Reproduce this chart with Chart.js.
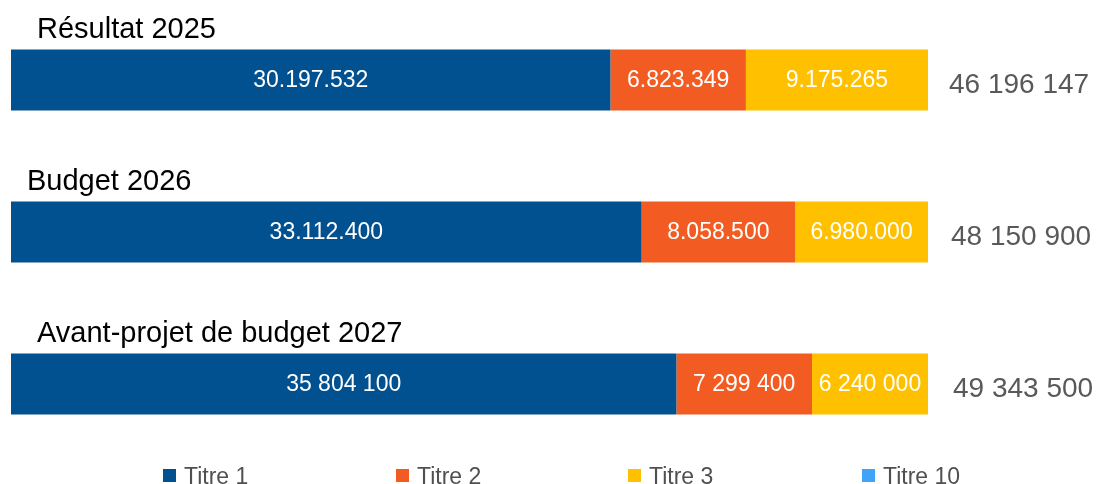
<!DOCTYPE html>
<html>
<head>
<meta charset="utf-8">
<script src="https://cdn.jsdelivr.net/npm/chart.js@4"></script>
<style>
  body { margin: 0; background: #fff; }
  #wrap { width: 1099px; height: 484px; }
</style>
</head>
<body>
<div id="wrap"><canvas id="chart" width="1099" height="484"></canvas></div>
<script>
// donnees
const categories = ['Résultat 2025', 'Budget 2026', 'Avant-projet de budget 2027'];
const titre1 = [30197532, 33112400, 35804100];
const titre2 = [6823349, 8058500, 7299400];
const titre3 = [9175265, 6980000, 6240000];
const titre10 = [0, 0, 0];
const totaux = [46196147, 48150900, 49343500];
const separateurs = ['.', '.', ' '];

const series = [
    { label: 'Titre 1', values: titre1, color: '#01508F' },
    { label: 'Titre 2', values: titre2, color: '#F25C22' },
    { label: 'Titre 3', values: titre3, color: '#FFC000' },
    { label: 'Titre 10', values: titre10, color: '#3FA4F8' }
];

function fmt(n, sep) {
    return String(Math.round(n)).replace(/\B(?=(\d{3})+(?!\d))/g, sep);
}

const FONT = '"Liberation Sans", Arial, sans-serif';

// etiquettes, totaux et legende dessines a la main
const labelsPlugin = {
    id: 'labelsPlugin',
    afterDatasetsDraw(chart) {
        const ctx = chart.ctx;
        ctx.save();

        // valeurs dans les segments
        ctx.font = '23px ' + FONT;
        ctx.fillStyle = '#ffffff';
        ctx.textAlign = 'center';
        ctx.textBaseline = 'middle';
        series.forEach((s, i) => {
            const meta = chart.getDatasetMeta(i);
            meta.data.forEach((bar, j) => {
                if (!s.values[j]) return;
                ctx.fillText(fmt(s.values[j], separateurs[j]), (bar.x + bar.base) / 2, bar.y + 1);
            });
        });

        const first = chart.getDatasetMeta(0).data;
        first.forEach((bar, j) => {
            const top = bar.y - bar.height / 2;
            // nom de la categorie au dessus de la barre
            ctx.font = '29px ' + FONT;
            ctx.fillStyle = '#000000';
            ctx.textAlign = 'left';
            ctx.textBaseline = 'alphabetic';
            ctx.fillText(categories[j], j === 1 ? 27 : 37, top - 12);

            // total a droite
            ctx.font = '28px ' + FONT;
            ctx.fillStyle = '#595959';
            ctx.textBaseline = 'middle';
            ctx.fillText(fmt(totaux[j], ' '), chart.chartArea.right + 21 + j * 2, bar.y + 5);
        });

        // legende en bas
        const legendX = [163, 396, 628, 862];
        ctx.font = '23px ' + FONT;
        ctx.textBaseline = 'alphabetic';
        series.forEach((s, i) => {
            ctx.fillStyle = s.color;
            ctx.fillRect(legendX[i], 469, 13, 13);
            ctx.fillStyle = '#505050';
            ctx.fillText(s.label, legendX[i] + 21, 484);
        });

        ctx.restore();
    }
};

const ctx = document.getElementById('chart').getContext('2d');
new Chart(ctx, {
    type: 'bar',
    data: {
        labels: categories,
        datasets: series.map(s => ({
            label: s.label,
            data: s.values.map((v, j) => v / totaux[j] * 100),
            backgroundColor: s.color,
            borderWidth: 0,
            barPercentage: 0.4,
            categoryPercentage: 1
        }))
    },
    options: {
        indexAxis: 'y',
        responsive: false,
        animation: false,
        devicePixelRatio: 1,
        layout: {
            padding: { left: 11, right: 171, top: 4, bottom: 24 }
        },
        scales: {
            x: { stacked: true, min: 0, max: 100, display: false },
            y: { stacked: true, display: false }
        },
        plugins: {
            legend: { display: false },
            tooltip: { enabled: false }
        }
    },
    plugins: [labelsPlugin]
});
</script>
</body>
</html>
